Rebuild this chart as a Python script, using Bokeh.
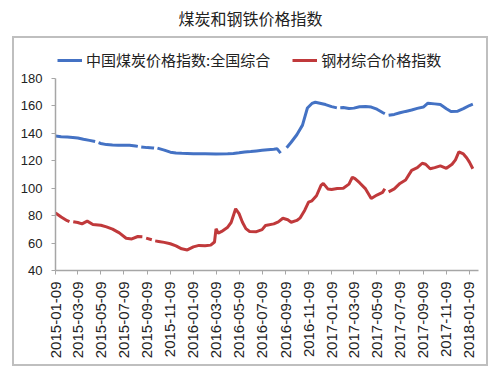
import pandas as pd
from math import pi
from bokeh.plotting import figure
from bokeh.models import (FixedTicker, DatetimeTickFormatter, Legend, LegendItem,
                          Label, Range1d, ColumnDataSource)
from bokeh.embed import file_html
from bokeh.resources import INLINE

NaN = float("nan")

title_text = "煤炭和钢铁价格指数"
coal_name = "中国煤炭价格指数:全国综合"
steel_name = "钢材综合价格指数"

coal_dates = [
    "2015-01-09", "2015-01-24", "2015-02-09", "2015-02-24", "2015-03-09", "2015-03-24",
    "2015-04-09", "2015-04-24", "2015-04-28", "2015-05-03", "2015-05-09", "2015-05-24",
    "2015-06-09", "2015-06-24", "2015-07-09", "2015-07-24", "2015-08-09", "2015-08-15",
    "2015-08-20", "2015-08-24", "2015-09-09", "2015-09-24", "2015-09-27", "2015-10-02",
    "2015-10-06", "2015-10-24", "2015-11-09", "2015-11-24", "2015-12-09", "2015-12-24",
    "2016-01-09", "2016-02-09", "2016-03-09", "2016-04-09", "2016-04-24", "2016-05-09",
    "2016-05-24", "2016-06-09", "2016-06-24", "2016-07-09", "2016-07-24", "2016-08-09",
    "2016-08-18", "2016-08-27", "2016-09-04", "2016-09-12", "2016-09-24", "2016-10-09",
    "2016-10-24", "2016-11-06", "2016-11-18", "2016-11-27", "2016-12-09", "2016-12-24",
    "2017-01-09", "2017-01-23", "2017-01-27", "2017-02-01", "2017-02-09", "2017-02-24",
    "2017-03-09", "2017-03-24", "2017-04-09", "2017-04-24", "2017-05-09", "2017-05-24",
    "2017-05-30", "2017-06-04", "2017-06-09", "2017-06-24", "2017-07-09", "2017-07-24",
    "2017-08-09", "2017-08-24", "2017-09-09", "2017-09-21", "2017-10-09", "2017-10-24",
    "2017-11-09", "2017-11-21", "2017-12-09", "2017-12-24", "2018-01-09", "2018-01-18",
]
coal_values = [
    138.0, 137.6, 137.3, 137.0, 136.6, 135.7,
    134.9, 134.0, NaN, 133.2, 132.6, 131.8,
    131.5, 131.4, 131.4, 131.3, 130.8, 130.5,
    NaN, 130.1, 129.6, 129.4, 129.3, NaN,
    129.2, 127.8, 126.3, 125.7, 125.5, 125.4,
    125.2, 125.1, 125.0, 125.1, 125.3, 125.8,
    126.4, 126.8, 127.2, 127.6, 128.0, 128.4,
    128.7, 125.6, NaN, 129.5, 133.5, 139.0,
    146.0, 158.5, 161.8, 162.7, 162.0, 161.0,
    159.5, 158.6, NaN, 158.7, 158.8, 158.1,
    158.4, 159.4, 159.6, 159.2, 157.6, 155.2,
    154.3, NaN, 153.2, 153.8, 155.0, 156.0,
    157.0, 158.2, 159.2, 162.0, 161.5, 161.0,
    158.0, 156.0, 156.2, 158.0, 160.3, 161.3,
]

steel_dates = [
    "2015-01-09", "2015-01-24", "2015-02-09", "2015-02-15", "2015-02-19", "2015-02-25",
    "2015-03-09", "2015-03-20", "2015-04-03", "2015-04-18", "2015-05-09", "2015-05-24",
    "2015-06-09", "2015-06-27", "2015-07-15", "2015-07-30", "2015-08-15", "2015-08-27",
    "2015-09-01", "2015-09-06", "2015-09-21", "2015-09-25", "2015-09-30", "2015-10-09",
    "2015-10-24", "2015-11-09", "2015-11-24", "2015-12-09", "2015-12-24", "2016-01-09",
    "2016-01-24", "2016-02-09", "2016-02-24", "2016-03-05", "2016-03-09", "2016-03-15",
    "2016-03-24", "2016-04-09", "2016-04-18", "2016-04-30", "2016-05-09", "2016-05-18",
    "2016-05-27", "2016-06-06", "2016-06-24", "2016-07-09", "2016-07-18", "2016-08-09",
    "2016-08-21", "2016-09-02", "2016-09-15", "2016-09-24", "2016-10-09", "2016-10-18",
    "2016-10-30", "2016-11-09", "2016-11-18", "2016-11-30", "2016-12-12", "2016-12-18",
    "2016-12-30", "2017-01-09", "2017-01-24", "2017-02-09", "2017-02-24", "2017-03-05",
    "2017-03-12", "2017-03-24", "2017-04-09", "2017-04-24", "2017-05-09", "2017-05-24",
    "2017-05-30", "2017-06-04", "2017-06-09", "2017-06-24", "2017-07-09", "2017-07-24",
    "2017-08-09", "2017-08-24", "2017-09-06", "2017-09-15", "2017-09-27", "2017-10-09",
    "2017-10-24", "2017-11-09", "2017-11-24", "2017-12-03", "2017-12-12", "2017-12-24",
    "2018-01-02", "2018-01-09", "2018-01-18",
]
steel_values = [
    82.0, 79.0, 76.3, 75.6, NaN, 75.6,
    75.0, 74.0, 76.0, 73.5, 73.0, 71.8,
    70.2, 67.4, 63.5, 63.0, 64.8, 64.6,
    NaN, 63.6, 62.4, NaN, 61.6, 61.2,
    60.5, 59.5, 58.0, 55.8, 55.0, 57.2,
    58.3, 58.0, 58.5, 60.8, 70.4, 67.2,
    68.5, 71.6, 75.0, 85.0, 81.5, 75.2,
    70.5, 68.4, 68.3, 69.8, 72.8, 74.0,
    75.5, 78.1, 77.0, 75.2, 76.5, 78.4,
    84.0, 89.8, 90.8, 94.5, 102.0, 103.5,
    99.5, 99.0, 99.8, 100.0, 103.0, 108.0,
    107.0, 104.0, 99.5, 92.5, 95.0, 97.0,
    99.6, NaN, 97.3, 99.5, 103.5, 106.0,
    113.0, 115.0, 118.2, 117.5, 114.2, 115.0,
    116.3, 114.5, 117.5, 120.7, 126.5, 125.0,
    122.0, 119.0, 114.2,
]

tick_labels = [
    "2015-01-09", "2015-03-09", "2015-05-09", "2015-07-09", "2015-09-09", "2015-11-09",
    "2016-01-09", "2016-03-09", "2016-05-09", "2016-07-09", "2016-09-09", "2016-11-09",
    "2017-01-09", "2017-03-09", "2017-05-09", "2017-07-09", "2017-09-09", "2017-11-09",
    "2018-01-09",
]
y_ticks = [40, 60, 80, 100, 120, 140, 160, 180]

coal_src = ColumnDataSource(dict(x=pd.to_datetime(coal_dates), y=coal_values))
steel_src = ColumnDataSource(dict(x=pd.to_datetime(steel_dates), y=steel_values))

# layout (canvas pixels)
W, H = 500, 372
frame_left, frame_right, frame_bottom = 55, 478, 270
y_top_px = 78            # where the 180 tick sits
y_min, y_max = y_ticks[0], y_ticks[-1]
px_per_unit = (frame_bottom - y_top_px) / (y_max - y_min)
y_range_end = y_min + frame_bottom / px_per_unit   # frame spans up to canvas top

x_start = pd.Timestamp("2015-01-09").to_pydatetime()
x_end = pd.Timestamp("2018-02-02").to_pydatetime()

box_css = ("linear-gradient(#BFBFBF,#BFBFBF) 12px 36px / 476px 2px no-repeat, "
           "linear-gradient(#BFBFBF,#BFBFBF) 12px 364px / 476px 2px no-repeat, "
           "linear-gradient(#BFBFBF,#BFBFBF) 12px 36px / 2px 330px no-repeat, "
           "linear-gradient(#BFBFBF,#BFBFBF) 486px 36px / 2px 330px no-repeat, "
           "white")

p = figure(width=W, height=H, x_axis_type="datetime",
           x_range=Range1d(x_start, x_end), y_range=Range1d(y_min, y_range_end),
           output_backend="svg", toolbar_location=None,
           min_border_left=frame_left, min_border_right=W - frame_right,
           min_border_top=0, min_border_bottom=H - frame_bottom,
           styles={"background": box_css})

p.outline_line_color = None
p.grid.visible = False
p.background_fill_alpha = 0
p.border_fill_alpha = 0

axis_color = "#A6A6A6"
for ax in (p.xaxis[0], p.yaxis[0]):
    ax.axis_line_color = axis_color
    ax.axis_line_width = 1.5
    ax.major_tick_line_color = axis_color
    ax.major_tick_in = 0
    ax.major_tick_out = 4
    ax.minor_tick_line_color = None
    ax.major_label_text_font = "Liberation Sans"
    ax.major_label_text_color = "#222222"

p.yaxis.ticker = FixedTicker(ticks=y_ticks)
p.yaxis.bounds = (y_min, y_max)
p.yaxis.major_label_text_font_size = "13px"
p.yaxis.major_label_standoff = 9

tick_ms = [pd.Timestamp(t).value // 10**6 for t in tick_labels]
p.xaxis.ticker = FixedTicker(ticks=tick_ms)
fmt = "%Y-%m-%d"
p.xaxis.formatter = DatetimeTickFormatter(
    milliseconds=fmt, seconds=fmt, minsec=fmt, minutes=fmt, hourmin=fmt,
    hours=fmt, days=fmt, months=fmt, years=fmt)
p.xaxis.major_label_orientation = pi / 2
p.xaxis.major_label_text_font_size = "15px"
p.xaxis.major_label_standoff = 7

r_coal = p.line("x", "y", source=coal_src, line_color="#4472C4", line_width=3)
r_steel = p.line("x", "y", source=steel_src, line_color="#C0393B", line_width=3)

legend = Legend(items=[LegendItem(label=coal_name, renderers=[r_coal]),
                       LegendItem(label=steel_name, renderers=[r_steel])],
                orientation="horizontal", location=(2, 200),
                label_text_font="Noto Sans CJK SC", label_text_font_size="15px",
                label_text_color="#222222",
                glyph_width=25, glyph_height=16, label_standoff=4, spacing=22,
                padding=0, margin=0, border_line_color=None,
                background_fill_alpha=0)
p.add_layout(legend)

title = Label(x=250, y=17, x_units="canvas", y_units="canvas", text=title_text,
              text_align="center", text_baseline="middle",
              text_font="Noto Sans CJK SC", text_font_size="16px",
              text_color="#222222")
p.add_layout(title)

open("out.html", "w").write(file_html(p, INLINE))
